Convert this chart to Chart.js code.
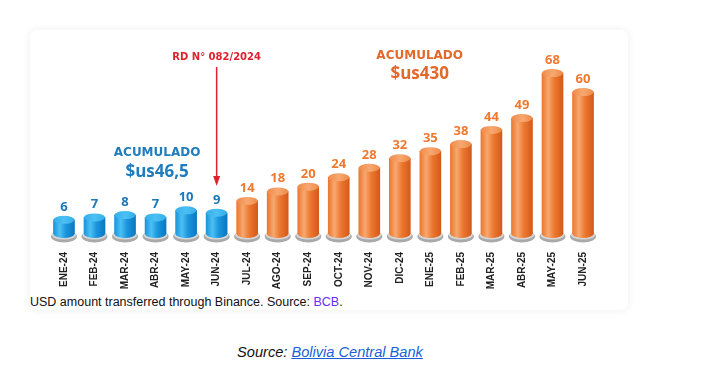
<!DOCTYPE html>
<html>
<head>
<meta charset="utf-8">
<script src="https://cdn.jsdelivr.net/npm/chart.js@4.4.1/dist/chart.umd.min.js"></script>
<style>
  body { margin: 0; background: #fff; width: 709px; height: 380px; position: relative; font-family: "Liberation Sans", Arial, sans-serif; }
  .card { position: absolute; left: 30px; top: 30px; width: 598px; height: 280px; background: #fff; border-radius: 7px; box-shadow: 0 0 8px rgba(0,0,0,0.07); }
  .chart-box { position: absolute; left: 0; top: 0; width: 598px; height: 262px; }
  .caption { position: absolute; left: 0; top: 265px; font-size: 12.5px; color: #111; white-space: nowrap; }
  .caption span { color: #6a2cf5; }
  .source { position: absolute; left: 0; width: 660px; top: 344px; text-align: center; font-style: italic; font-size: 14.6px; color: #111; }
  .source a { color: #1a5fd8; text-decoration: underline; }
</style>
</head>
<body>
<div class="card">
  <div class="chart-box"><canvas id="bcbChart"></canvas></div>
  <div class="caption">USD amount transferred through Binance. Source: <span>BCB</span>.</div>
</div>
<div class="source">Source: <a href="#">Bolivia Central Bank</a></div>

<script>
// monthly USD (millions) moved through Binance
const months = ["ENE-24", "FEB-24", "MAR-24", "ABR-24", "MAY-24", "JUN-24",
  "JUL-24", "AGO-24", "SEP-24", "OCT-24", "NOV-24", "DIC-24",
  "ENE-25", "FEB-25", "MAR-25", "ABR-25", "MAY-25", "JUN-25"];
const amounts = [6, 7, 8, 7, 10, 9, 14, 18, 20, 24, 28, 32, 35, 38, 44, 49, 68, 60];
const lastBeforeRule = 5; // JUN-24, month of RD N° 082/2024
const ruleLabel = "RD N° 082/2024";
const totalBefore = ["ACUMULADO", "$us46,5"];
const totalAfter = ["ACUMULADO", "$us430"];

const BLUE = { edge: "#0a78c2", light: "#4cc0f4", mid: "#1a95db", cap: "#35aeea", text: "#1b78b9" };
const ORANGE = { edge: "#d45a1a", light: "#f7a870", mid: "#ec772f", cap: "#ef8b4a", text: "#ef7a2f" };
const CAP_RY = 4;

function pal(i) { return i <= lastBeforeRule ? BLUE : ORANGE; }

function bodyGradient(c, x, w, p) {
  const g = c.createLinearGradient(x - w / 2, 0, x + w / 2, 0);
  g.addColorStop(0, p.mid);
  g.addColorStop(0.3, p.light);
  g.addColorStop(0.6, p.mid);
  g.addColorStop(1, p.edge);
  return g;
}

const cylinders = {
  id: "cylinders",
  beforeDatasetsDraw(chart) {
    const c = chart.ctx;
    chart.getDatasetMeta(0).data.forEach((bar, i) => {
      const w = bar.width;
      // grey floor shadow
      c.save();
      c.fillStyle = "#a9a9a9";
      c.beginPath();
      c.ellipse(bar.x, bar.base + 2.5, w / 2 + 2.5, CAP_RY + 2, 0, 0, Math.PI * 2);
      c.fill();
      c.fillStyle = "#d6d6d6";
      c.beginPath();
      c.ellipse(bar.x, bar.base + 1, w / 2 + 1.5, CAP_RY + 0.5, 0, 0, Math.PI * 2);
      c.fill();
      // rounded bottom
      c.fillStyle = bodyGradient(c, bar.x, w, pal(i));
      c.beginPath();
      c.ellipse(bar.x, bar.base, w / 2, CAP_RY, 0, 0, Math.PI * 2);
      c.fill();
      c.restore();
    });
  },
  afterDatasetsDraw(chart) {
    const c = chart.ctx;
    const xs = chart.scales.x;
    c.save();
    chart.getDatasetMeta(0).data.forEach((bar, i) => {
      const p = pal(i);
      const w = bar.width;
      const g = c.createLinearGradient(bar.x - w / 2, 0, bar.x + w / 2, 0);
      g.addColorStop(0, p.cap);
      g.addColorStop(0.5, p.light);
      g.addColorStop(1, p.cap);
      c.fillStyle = g;
      c.beginPath();
      c.ellipse(bar.x, bar.y, w / 2, CAP_RY, 0, 0, Math.PI * 2);
      c.fill();
      c.fillStyle = p.text;
      c.font = "bold 13px 'Open Sans', sans-serif";
      c.textAlign = "center";
      c.textBaseline = "alphabetic";
      c.fillText(amounts[i], bar.x, bar.y - CAP_RY - 5);
    });

    // rule annotation + arrow
    const ax = xs.getPixelForValue(lastBeforeRule);
    c.fillStyle = "#e0202e";
    c.strokeStyle = "#e0202e";
    c.font = "bold 10px 'DejaVu Sans', sans-serif";
    c.textBaseline = "middle";
    c.fillText(ruleLabel, ax, 27);
    c.lineWidth = 1.5;
    c.beginPath();
    c.moveTo(ax, 37);
    c.lineTo(ax, 150);
    c.stroke();
    c.beginPath();
    c.moveTo(ax - 3.5, 146);
    c.lineTo(ax + 3.5, 146);
    c.lineTo(ax, 156);
    c.closePath();
    c.fill();

    // accumulated totals
    const bx = xs.getPixelForValue(3.05);
    c.fillStyle = "#1f7cbd";
    c.font = "bold 12px 'DejaVu Sans', sans-serif";
    c.fillText(totalBefore[0], bx, 123);
    c.font = "bold 17px 'Open Sans', sans-serif";
    c.fillText(totalBefore[1], bx, 142);

    const ox = xs.getPixelForValue(11.65);
    c.fillStyle = "#e2692b";
    c.font = "bold 12px 'DejaVu Sans', sans-serif";
    c.fillText(totalAfter[0], ox, 26);
    c.font = "bold 17px 'Open Sans', sans-serif";
    c.fillText(totalAfter[1], ox, 44);
    c.restore();
  }
};

new Chart(document.getElementById("bcbChart"), {
  type: "bar",
  data: {
    labels: months,
    datasets: [{
      data: amounts,
      barThickness: 21,
      borderWidth: 0,
      backgroundColor: (ctx) => {
        const chart = ctx.chart;
        const xs = chart.scales.x;
        if (!xs || !chart.chartArea) return pal(ctx.dataIndex).mid;
        return bodyGradient(chart.ctx, xs.getPixelForValue(ctx.dataIndex), 21, pal(ctx.dataIndex));
      }
    }]
  },
  options: {
    responsive: true,
    maintainAspectRatio: false,
    animation: false,
    layout: { padding: { left: 18.7, right: 29.7, top: 10, bottom: 0 } },
    plugins: { legend: { display: false }, tooltip: { enabled: false } },
    scales: {
      x: {
        grid: { display: false, drawTicks: false },
        border: { display: false },
        ticks: {
          minRotation: 90, maxRotation: 90, padding: 18,
          color: "#222",
          font: { family: "'Liberation Sans', Arial, sans-serif", size: 10, weight: "bold" }
        },
        afterFit(scale) { scale.height = 58; }
      },
      y: { display: false, min: 0, max: 82 }
    }
  },
  plugins: [cylinders]
});
</script>
</body>
</html>
